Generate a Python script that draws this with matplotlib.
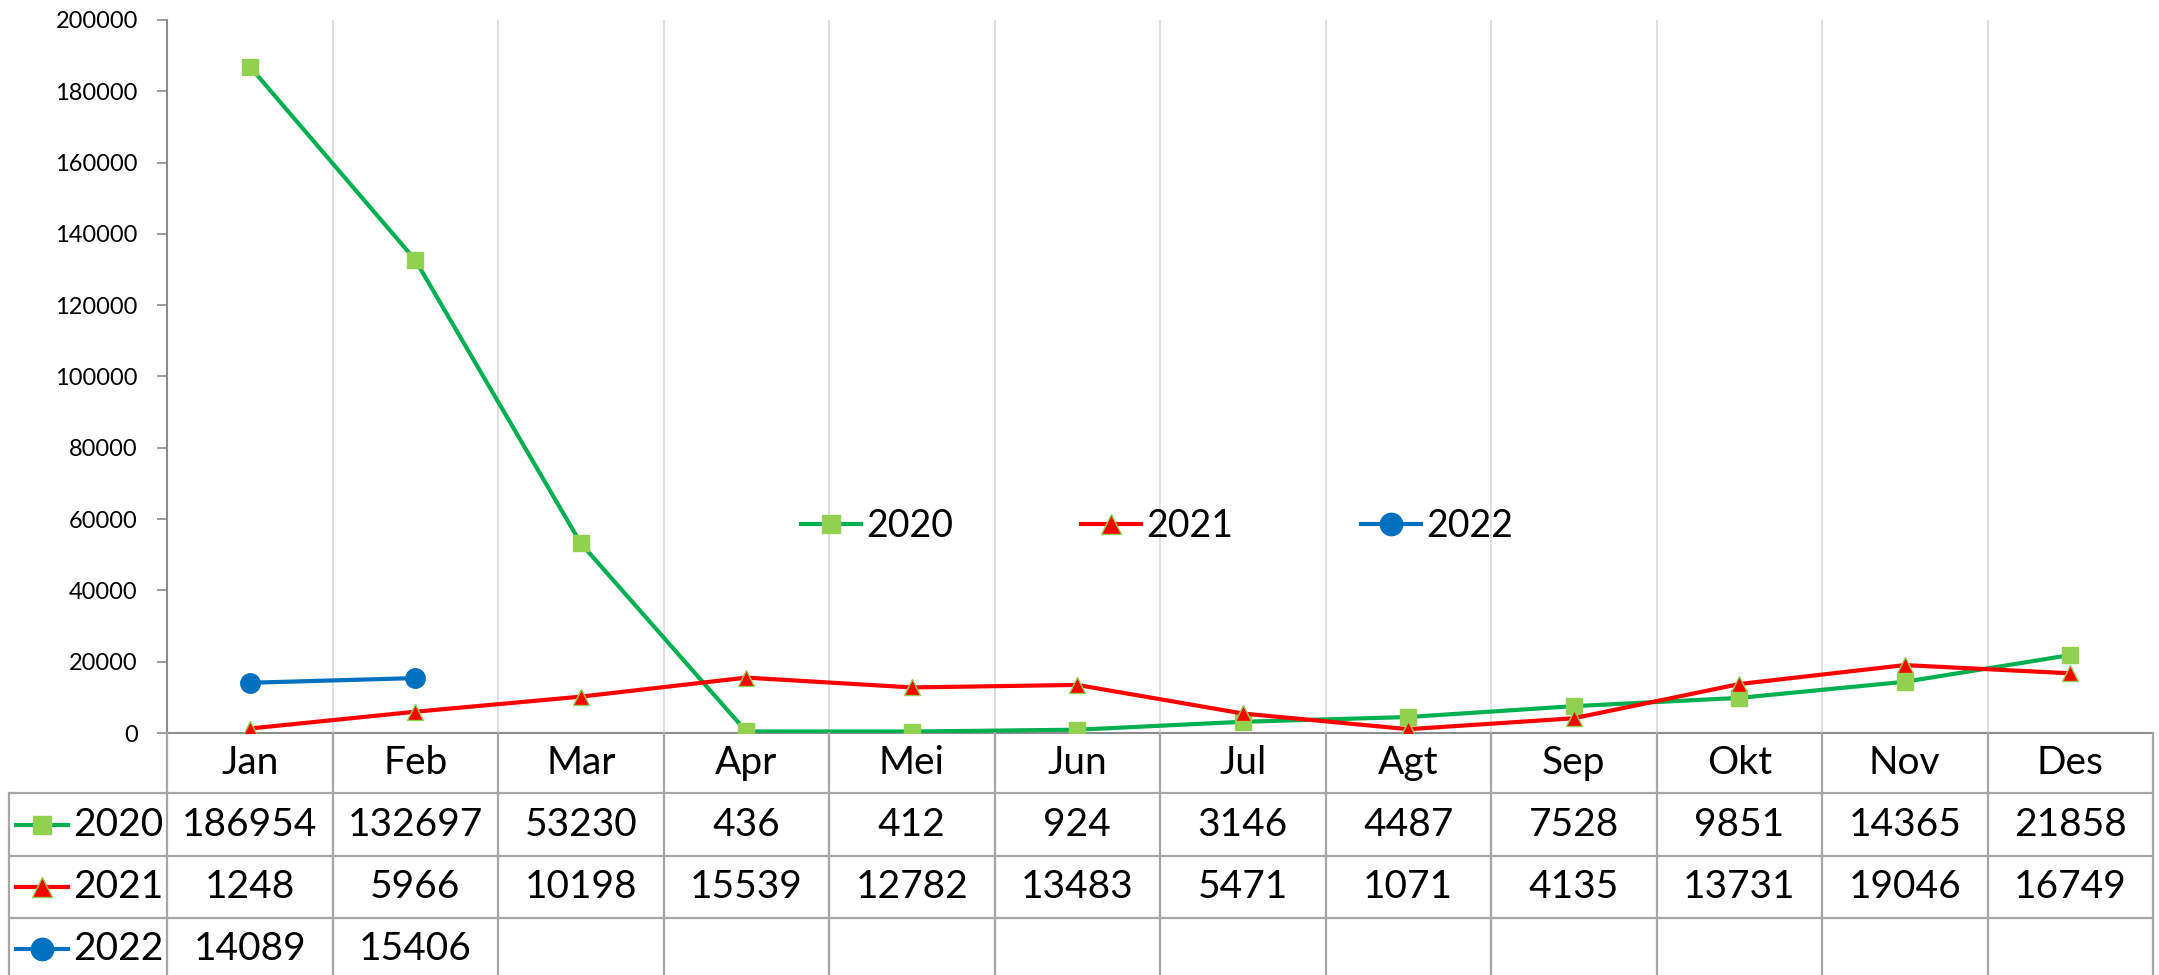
import matplotlib
matplotlib.use("Agg")
import matplotlib.pyplot as plt
import matplotlib.transforms as mtransforms
from matplotlib.lines import Line2D
import numpy as np

plt.rcParams['font.family'] = ['Lato', 'DejaVu Sans']

months = ["Jan", "Feb", "Mar", "Apr", "Mei", "Jun", "Jul", "Agt", "Sep", "Okt", "Nov", "Des"]
years = ["2020", "2021", "2022"]
v2020 = [186954, 132697, 53230, 436, 412, 924, 3146, 4487, 7528, 9851, 14365, 21858]
v2021 = [1248, 5966, 10198, 15539, 12782, 13483, 5471, 1071, 4135, 13731, 19046, 16749]
v2022 = [14089, 15406]
yticks = list(range(0, 200001, 20000))

W, H = 2159, 975
fig = plt.figure(figsize=(W / 100, H / 100), dpi=100)
L, R, T, B = 167, 2153, 20, 733
ax = fig.add_axes([L / W, 1 - B / H, (R - L) / W, (B - T) / H])

styles = [
    dict(color="#00B050", marker="s", mfc="#92D050", mec="#92D050", ms=11),
    dict(color="#FF0000", marker="^", mfc="#FF0000", mec="#92D050", ms=12),
    dict(color="#0070C0", marker="o", mfc="#0070C0", mec="#0070C0", ms=14),
]
series = [v2020, v2021, v2022]
x = np.arange(len(months))
handles = []
for yr, vals, st in zip(years, series, styles):
    h, = ax.plot(x[:len(vals)], vals, lw=3, label=yr, zorder=3, **st)
    handles.append(h)

ax.set_xlim(-0.5, len(months) - 0.5)
ax.set_ylim(0, 200000)
ax.set_yticks(yticks)
ax.set_yticklabels([str(t) for t in yticks], fontsize=17)
ax.tick_params(axis='y', length=7, width=1.2, color="#8C8C8C", pad=14, direction='out')
ax.set_xticks([])
for i in range(1, len(months)):
    ax.axvline(i - 0.5, color="#D9D9D9", lw=1.2, zorder=1)
for s in ["top", "right"]:
    ax.spines[s].set_visible(False)
ax.spines["left"].set_color("#8C8C8C")
ax.spines["left"].set_linewidth(1.5)
ax.spines["bottom"].set_color("#8C8C8C")
ax.spines["bottom"].set_linewidth(1.5)

leg = ax.legend(handles=handles, loc="center", bbox_to_anchor=(0.4985, 0.29),
                ncol=3, frameon=False, fontsize=27, columnspacing=3.4,
                handlelength=1.6, handletextpad=0.15, markerscale=1.15)

# ---- data table ----
trans = mtransforms.blended_transform_factory(ax.transData, fig.transFigure)
figt = fig.transFigure
line_c = "#A6A6A6"
row_bounds = [733, 793, 856, 918, 980]  # pixel y of row boundaries
yf = lambda p: 1 - p / H
tl = 9
for i in range(len(months) + 1):
    fig.add_artist(Line2D([i - 0.5, i - 0.5], [yf(row_bounds[0]), yf(row_bounds[-1])],
                          transform=trans, color=line_c, lw=1.6))
for k, p in enumerate(row_bounds[1:]):
    fig.add_artist(Line2D([tl / W, R / W], [yf(p), yf(p)], transform=figt, color=line_c, lw=1.6))
fig.add_artist(Line2D([tl / W, tl / W], [yf(row_bounds[1]), yf(row_bounds[-1])],
                      transform=figt, color=line_c, lw=1.6))

for i, m in enumerate(months):
    fig.text(i, yf((row_bounds[0] + row_bounds[1]) / 2), m, transform=trans,
             ha="center", va="center", fontsize=28)
for r, (yr, vals, st) in enumerate(zip(years, series, styles)):
    yc = yf((row_bounds[r + 1] + row_bounds[r + 2]) / 2)
    for i, v in enumerate(vals):
        fig.text(i, yc, str(v), transform=trans, ha="center", va="center", fontsize=28)
    fig.add_artist(Line2D([16 / W, 68 / W], [yc, yc], transform=figt, lw=3, color=st["color"]))
    fig.add_artist(Line2D([42 / W], [yc], transform=figt, lw=0, marker=st["marker"],
                          mfc=st["mfc"], mec=st["mec"], ms=st["ms"] * 1.15))
    fig.text(73 / W, yc, yr, transform=figt, ha="left", va="center", fontsize=28)

fig.savefig("out.png", dpi=100)
